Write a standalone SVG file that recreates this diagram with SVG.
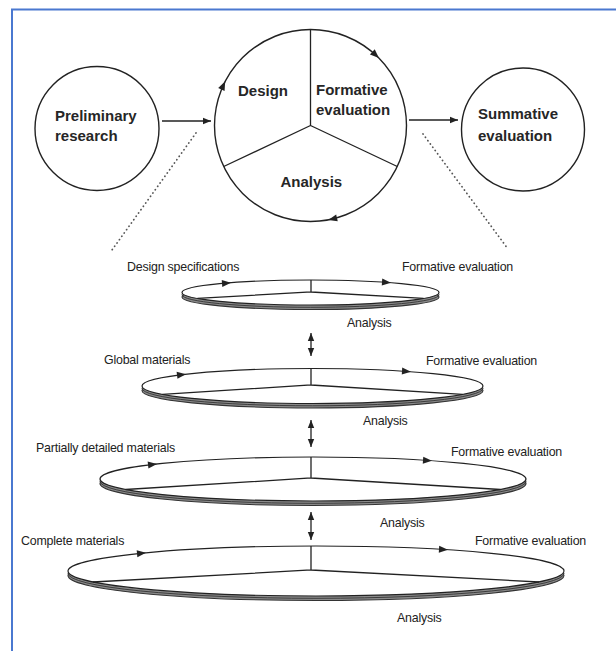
<svg xmlns="http://www.w3.org/2000/svg" xmlns:xlink="http://www.w3.org/1999/xlink" width="616" height="651" viewBox="0 0 616 651">
<style>
.ln{stroke:#222;stroke-width:1.3;fill:none}
.circ{stroke:#222;stroke-width:1.4;fill:#fff}
.face{stroke:#222;stroke-width:1.2;fill:#fff}
.rim{stroke:#333;stroke-width:1.1;fill:#8a8a8a}
.rim2{stroke:#333;stroke-width:0.9;fill:none}
.big{font-family:"Liberation Sans",Arial,sans-serif;font-weight:bold;font-size:15px;fill:#262626}
.sm{font-family:"Liberation Sans",Arial,sans-serif;font-size:12.4px;fill:#222;letter-spacing:-0.2px}
.dot{stroke:#555;stroke-width:1.8;stroke-linecap:round;stroke-dasharray:0.1 4;fill:none}
</style>
<defs>
<marker id="ah" viewBox="0 0 10 10" refX="10" refY="5" markerWidth="9" markerHeight="8" markerUnits="userSpaceOnUse" orient="auto-start-reverse">
<path d="M0,1 L10,5 L0,9 Z" fill="#222"/>
</marker>
<path id="tri" d="M4,0 L-5,-3.5 L-5,3.5 Z" fill="#222"/>
</defs>
<rect width="616" height="651" fill="#fff"/>
<path d="M12,651 V9.5 H616" fill="none" stroke="#4a78d0" stroke-width="2"/>

<g id="preliminary-research">
<circle class="circ" cx="97" cy="128.5" r="62"/>
<text class="big" x="55" y="121">Preliminary</text>
<text class="big" x="55" y="141">research</text>
</g>

<g id="cycle">
<circle class="circ" cx="310.5" cy="125.5" r="96"/>
<path class="ln" d="M310.5,125.5 V29.5 M310.5,125.5 L223.7,166.5 M310.5,125.5 L397.3,166.5"/>
<use xlink:href="#tri" transform="translate(376,55.3) rotate(43)"/>
<use xlink:href="#tri" transform="translate(223.5,84.9) rotate(-65)"/>
<use xlink:href="#tri" transform="translate(332.1,219) rotate(167)"/>
<text class="big" x="238" y="96">Design</text>
<text class="big" x="316" y="95">Formative</text>
<text class="big" x="316" y="115">evaluation</text>
<text class="big" x="280.5" y="187">Analysis</text>
</g>

<g id="summative-evaluation">
<circle class="circ" cx="523" cy="129.5" r="61.5"/>
<text class="big" x="478" y="119">Summative</text>
<text class="big" x="478" y="141">evaluation</text>
</g>

<g id="disc1">
<ellipse class="rim" cx="310.5" cy="297" rx="128.5" ry="12.5"/>
<ellipse class="rim2" cx="310.5" cy="294.8" rx="128.5" ry="12.5"/>
<ellipse class="face" cx="310.5" cy="292.5" rx="128.5" ry="12.5"/>
<path class="ln" d="M311,280 V292 L197.4,298.4 M311,292 L423.6,298.4"/>
<use xlink:href="#tri" transform="translate(227,283) rotate(-4.8)"/>
<use xlink:href="#tri" transform="translate(387,282.4) rotate(4.1)"/>
<text class="sm" x="127" y="271">Design specifications</text>
<text class="sm" x="402" y="271">Formative evaluation</text>
<text class="sm" x="347" y="327">Analysis</text>
</g>

<g id="disc2">
<ellipse class="rim" cx="312.5" cy="390.5" rx="170.5" ry="17.5"/>
<ellipse class="rim2" cx="312.5" cy="388.3" rx="170.5" ry="17.5"/>
<ellipse class="face" cx="312.5" cy="386" rx="170.5" ry="17.5"/>
<path class="ln" d="M311,368.5 V385 L162.5,394.3 M311,385 L462.5,394.3"/>
<use xlink:href="#tri" transform="translate(182,374.7) rotate(-7)"/>
<use xlink:href="#tri" transform="translate(407,371.4) rotate(3.9)"/>
<text class="sm" x="104" y="364">Global materials</text>
<text class="sm" x="426" y="365">Formative evaluation</text>
<text class="sm" x="363" y="425">Analysis</text>
</g>

<g id="disc3">
<ellipse class="rim" cx="313" cy="483.5" rx="213" ry="22"/>
<ellipse class="rim2" cx="313" cy="481.3" rx="213" ry="22"/>
<ellipse class="face" cx="313" cy="479" rx="213" ry="22"/>
<path class="ln" d="M311,457 V478 L125.6,489.5 M311,478 L500.4,489.5"/>
<use xlink:href="#tri" transform="translate(153,464.5) rotate(-6.7)"/>
<use xlink:href="#tri" transform="translate(428,460.5) rotate(3.8)"/>
<text class="sm" x="36" y="452">Partially detailed materials</text>
<text class="sm" x="451" y="456">Formative evaluation</text>
<text class="sm" x="380" y="527">Analysis</text>
</g>

<g id="disc4">
<ellipse class="rim" cx="316" cy="575.5" rx="248" ry="25"/>
<ellipse class="rim2" cx="316" cy="573.3" rx="248" ry="25"/>
<ellipse class="face" cx="316" cy="571" rx="248" ry="25"/>
<path class="ln" d="M311,546 V570 L93,582 M311,570 L539,582"/>
<use xlink:href="#tri" transform="translate(142,553.2) rotate(-5.7)"/>
<use xlink:href="#tri" transform="translate(444,549.6) rotate(3.5)"/>
<text class="sm" x="21" y="545">Complete materials</text>
<text class="sm" x="475" y="545">Formative evaluation</text>
<text class="sm" x="397" y="622">Analysis</text>
</g>

<g id="connectors">
<line class="ln" x1="162" y1="121" x2="211" y2="121" marker-end="url(#ah)"/>
<line class="ln" x1="409" y1="120" x2="458" y2="120" marker-end="url(#ah)"/>
<line class="dot" x1="196" y1="133" x2="112" y2="250"/>
<line class="dot" x1="423" y1="134" x2="508" y2="249"/>
<line class="ln" x1="311" y1="333" x2="311" y2="356" marker-start="url(#ah)" marker-end="url(#ah)"/>
<line class="ln" x1="311" y1="420" x2="311" y2="447" marker-start="url(#ah)" marker-end="url(#ah)"/>
<line class="ln" x1="311" y1="512" x2="311" y2="540" marker-start="url(#ah)" marker-end="url(#ah)"/>
</g>
</svg>
